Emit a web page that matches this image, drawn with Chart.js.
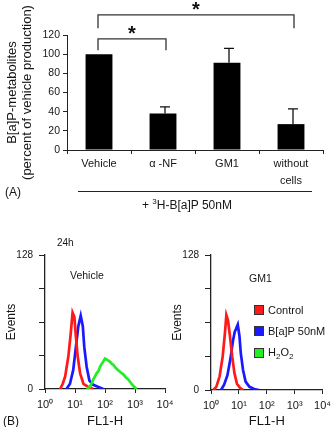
<!DOCTYPE html>
<html><head><meta charset="utf-8">
<script src="https://cdn.jsdelivr.net/npm/chart.js@4.4.1/dist/chart.umd.min.js"></script>
<style>
html,body{margin:0;padding:0;background:#fff;width:336px;height:427px;overflow:hidden;}
body{position:relative;font-family:Arial,"Liberation Sans",sans-serif;color:#161616;}
canvas{position:absolute;}
.t{position:absolute;white-space:nowrap;line-height:1;}
.sup{font-size:8px;position:relative;top:-5px;}
.sub{font-size:8px;position:relative;top:3px;}
.lg{position:absolute;left:254px;width:8px;height:8px;border:1px solid #333;}
</style></head><body>
<canvas id="cA" width="336" height="200" style="left:0;top:0"></canvas>
<canvas id="cB1" width="182" height="192" style="left:0;top:240px"></canvas>
<canvas id="cB2" width="170" height="192" style="left:166px;top:240px"></canvas>

<div class="t" style="left:5px;top:186px;font-size:12px">(A)</div>
<div style="position:absolute;left:78px;top:191px;width:234px;height:1px;background:#222"></div>
<div class="t" style="left:142px;top:199px;font-size:12px">+ <span class="sup">3</span>H-B[a]P 50nM</div>

<div class="t" style="left:57px;top:238px;font-size:10px">24h</div>
<div class="t" style="left:3px;top:415px;font-size:12px">(B)</div>
<div class="t" style="left:70px;top:270px;font-size:10.5px">Vehicle</div>
<div class="t" style="left:249px;top:273px;font-size:10.5px">GM1</div>

<div class="lg" style="top:305px;background:#ff1a1a"></div>
<div class="t" style="left:268px;top:305px;font-size:11px">Control</div>
<div class="lg" style="top:326px;background:#1a1aff"></div>
<div class="t" style="left:268px;top:326px;font-size:11px">B[a]P 50nM</div>
<div class="lg" style="top:348px;background:#22ee22"></div>
<div class="t" style="left:268px;top:347px;font-size:11px">H<span class="sub">2</span>O<span class="sub">2</span></div>

<script>
// ---------- Panel A data ----------
const categories = ['Vehicle', 'α -NF', 'GM1', ['without', 'cells']];
const metaboliteValues = [100, 38, 91, 27];
const errorUpper = [null, 45, 106, 43];
const yTicksA = [0, 20, 40, 60, 80, 100, 120];
const sigPairs = [[0, 1], [0, 3]];
const sigLevels = [116, 141];   // bracket height (data units)
const sigLegs = [104, 127];     // bracket leg ends (data units)

// ---------- Panel B data (FL1-H intensity, events) ----------
const decadeTicks = [1, 10, 100, 1000, 10000];
const eventTicks = [0, 32, 64, 96, 128];

const vehControlX = [3.2, 3.9, 4.7, 6.0, 7.2, 8.3, 9.5, 10.7, 12.3, 14.8, 19.1, 27.5, 40.7];
const vehControlY = [0, 5, 12, 31, 53, 73, 69, 50, 31, 15, 5, 2, 0];
const vehBapX = [5.2, 6.8, 8.7, 10.7, 12.9, 15.5, 18.2, 20.4, 24.5, 30.2, 40.7, 60.3, 87.1];
const vehBapY = [0, 5, 18, 40, 60, 70, 60, 40, 21, 8, 4, 2, 0];
const vehH2o2X = [24.5, 31.6, 40.7, 52.5, 60, 67.6, 77, 87.1, 100, 114.8, 130, 147.9, 170, 190.5, 230, 275.4, 330, 407.4, 500, 602.6, 720, 871, 1148];
const vehH2o2Y = [0, 2, 9, 15, 17, 21, 24, 26, 29, 28, 27, 26, 24, 23, 20, 18, 16, 14, 11, 9, 6, 3, 0];

const gmControlX = [1.2, 1.55, 2.04, 2.63, 3.16, 3.55, 4.07, 4.79, 5.75, 6.92, 8.51, 10.96, 14.1];
const gmControlY = [0, 3, 13, 32, 54, 71, 66, 51, 32, 16, 6, 2, 0];
const gmBapX = [2.29, 2.95, 3.89, 5.01, 6.17, 7.08, 7.94, 9.12, 10.5, 11.7, 14.1, 17.4, 24, 35.5, 52.5];
const gmBapY = [0, 5, 14, 30, 47, 55, 58, 62, 51, 35, 19, 8, 3, 1, 0];

const FONT = 'Arial, "Liberation Sans", sans-serif';
const INK = '#161616';
Chart.defaults.font.family = FONT;
Chart.defaults.color = INK;

// ---------- Panel A ----------
const annotatePlugin = {
  id: 'annot',
  afterDatasetsDraw(chart) {
    const {ctx, scales: {x, y}} = chart;
    ctx.save();
    ctx.strokeStyle = '#111';
    ctx.lineWidth = 1.3;
    // error bars (upper only)
    errorUpper.forEach((e, i) => {
      if (e == null) return;
      const px = x.getPixelForValue(i) + 2;
      const top = y.getPixelForValue(e);
      const base = y.getPixelForValue(metaboliteValues[i]);
      ctx.beginPath();
      ctx.moveTo(px, base); ctx.lineTo(px, top);
      ctx.moveTo(px - 5, top); ctx.lineTo(px + 5, top);
      ctx.stroke();
    });
    // significance brackets
    ctx.strokeStyle = '#333';
    sigPairs.forEach(([a, b], k) => {
      const xa = x.getPixelForValue(a) - 1;
      const xb = x.getPixelForValue(b) + 3;
      const yl = y.getPixelForValue(sigLevels[k]);
      const yg = y.getPixelForValue(sigLegs[k]);
      ctx.beginPath();
      ctx.moveTo(xa, yg); ctx.lineTo(xa, yl); ctx.lineTo(xb, yl); ctx.lineTo(xb, yg);
      ctx.stroke();
      ctx.fillStyle = '#111';
      ctx.font = 'bold 20px ' + FONT;
      ctx.textAlign = 'center';
      ctx.textBaseline = 'middle';
      ctx.fillText('*', (xa + xb) / 2, yl - 4);
    });
    ctx.restore();
  }
};

new Chart(document.getElementById('cA'), {
  type: 'bar',
  data: {
    labels: categories,
    datasets: [{
      data: metaboliteValues,
      backgroundColor: '#000',
      categoryPercentage: 1,
      barPercentage: 0.42
    }]
  },
  options: {
    responsive: false,
    animation: false,
    events: [],
    layout: {padding: {top: 35, right: 13, bottom: 0, left: 0}},
    plugins: {legend: {display: false}, tooltip: {enabled: false}},
    scales: {
      x: {
        grid: {display: true, drawOnChartArea: false, offset: true, tickLength: 4, color: '#222'},
        border: {display: true, color: '#222', width: 1},
        ticks: {font: {size: 11, lineHeight: 1.6}, padding: 1, maxRotation: 0, autoSkip: false, color: INK},
        afterFit(s) { s.height = 50; }
      },
      y: {
        min: 0, max: 120,
        afterBuildTicks(s) { s.ticks = yTicksA.map(v => ({value: v})); },
        grid: {display: true, drawOnChartArea: false, tickLength: 4, color: '#222'},
        border: {display: true, color: '#222', width: 1},
        ticks: {font: {size: 10.5}, padding: 3, color: INK},
        title: {
          display: true,
          text: ['B[a]P-metabolites', '(percent of vehicle production)'],
          font: {size: 13, lineHeight: 1.15},
          padding: {top: 5, bottom: 0},
          color: INK
        },
        afterFit(s) { s.width = 67; }
      }
    }
  },
  plugins: [annotatePlugin]
});

// ---------- Panel B ----------
const supDigits = ['⁰', '¹', '²', '³', '⁴'];
function pts(xs, ys) { return xs.map((v, i) => ({x: v, y: ys[i]})); }

function histChart(id, datasets, rightPad, xHeight) {
  new Chart(document.getElementById(id), {
    type: 'line',
    data: {datasets},
    options: {
      responsive: false,
      animation: false,
      events: [],
      layout: {padding: {top: 15, right: rightPad, bottom: 3, left: 0}},
      plugins: {legend: {display: false}, tooltip: {enabled: false}},
      elements: {point: {radius: 0}, line: {tension: 0, borderWidth: 2.7}},
      scales: {
        x: {
          type: 'logarithmic',
          min: 1, max: 10000,
          afterBuildTicks(s) { s.ticks = decadeTicks.map(v => ({value: v})); },
          grid: {display: true, drawOnChartArea: false, tickLength: 4, color: '#222'},
          border: {display: true, color: '#222', width: 1.3},
          ticks: {
            font: {size: 11},
            padding: 5,
            maxRotation: 0,
            autoSkip: false,
            color: INK,
            callback: (v) => '10' + supDigits[Math.round(Math.log10(v))]
          },
          title: {display: true, text: 'FL1-H', font: {size: 13}, padding: 0, color: INK},
          afterFit(s) { s.height = xHeight; }
        },
        y: {
          min: 0, max: 128,
          afterBuildTicks(s) { s.ticks = eventTicks.map(v => ({value: v})); },
          grid: {display: true, drawOnChartArea: false, tickLength: 6, color: '#222'},
          border: {display: true, color: '#222', width: 1.3},
          ticks: {
            font: {size: 10}, padding: 6, color: INK,
            callback: (v) => (v === 0 || v === 128) ? String(v) : ''
          },
          title: {display: true, text: 'Events', font: {size: 12}, padding: {top: 4, bottom: 0}, color: INK},
          afterFit(s) { s.width = 45; }
        }
      }
    }
  });
}

histChart('cB1', [
  {data: pts(vehH2o2X, vehH2o2Y), borderColor: '#22ee22'},
  {data: pts(vehControlX, vehControlY), borderColor: '#ff1a1a'},
  {data: pts(vehBapX, vehBapY), borderColor: '#1a1aff'}
], 17, 40);

histChart('cB2', [
  {data: pts(gmControlX, gmControlY), borderColor: '#ff1a1a'},
  {data: pts(gmBapX, gmBapY), borderColor: '#1a1aff'}
], 7, 39);
</script>
</body></html>
